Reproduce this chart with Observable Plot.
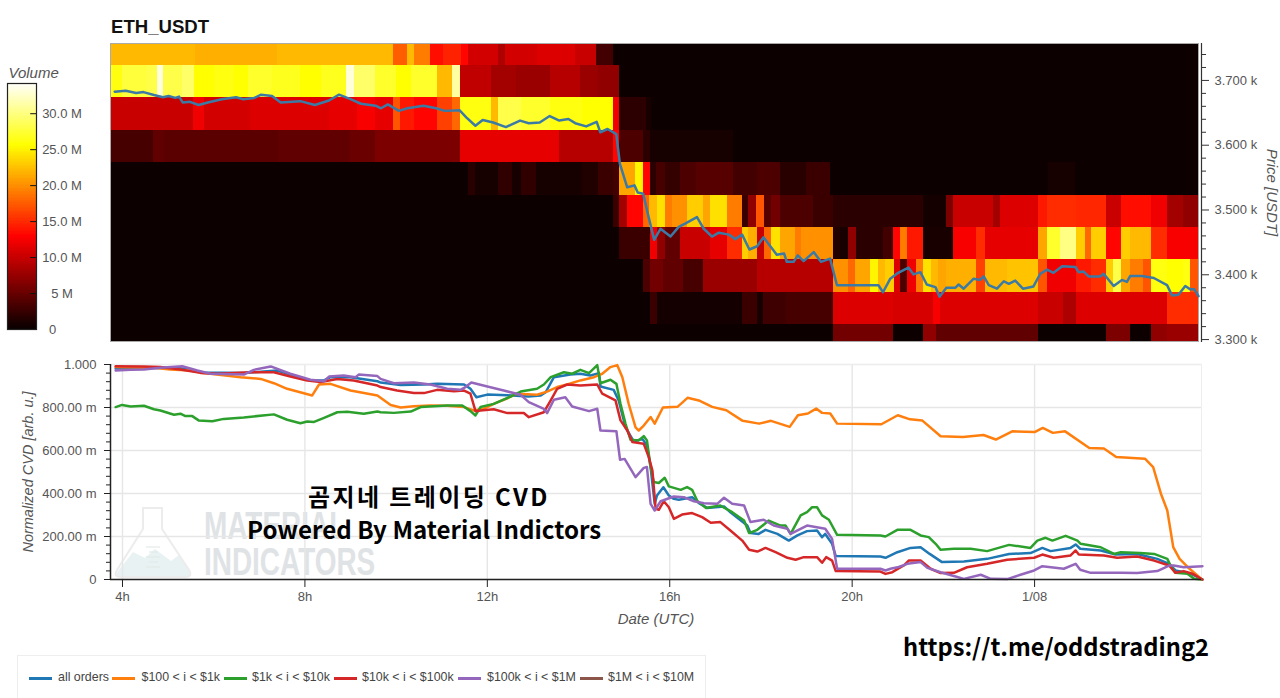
<!DOCTYPE html>
<html>
<head>
<meta charset="utf-8">
<script src="https://cdn.jsdelivr.net/npm/d3@7"></script>
<script src="https://cdn.jsdelivr.net/npm/@observablehq/plot@0.6"></script>
<style>
html,body{margin:0;padding:0;background:#fff;overflow:hidden}
#page{position:relative;width:1280px;height:698px;font-family:"Liberation Sans",Arial,sans-serif;color:#444;overflow:hidden}
#page svg.plotted{position:absolute}
.abs{position:absolute;white-space:nowrap}
.wm{transform:scaleX(0.735);transform-origin:left center;font-family:'Liberation Sans';font-weight:bold;font-size:38px;color:#e0e3e5;line-height:38px}
.over{font-family:'Noto Sans CJK KR','Noto Sans';font-weight:700;color:#000;line-height:34px}
#legend{position:absolute;left:17px;top:655px;width:689px;height:43px;border:1px solid #eee;border-bottom:none;box-sizing:border-box;font-size:12.4px;color:#444}
#legend .sw{position:absolute;top:21px;height:2.5px;width:23px}
#legend .tx{position:absolute;top:14px;line-height:15px}
</style>
</head>
<body>
<div id="page">
  <div class="abs" style="left:111px;top:16px;font-size:18.6px;font-weight:bold;color:#111;line-height:22px">ETH_USDT</div>
  <svg class="abs" style="left:113px;top:505px" width="82" height="76" viewBox="0 0 82 76">
    <path d="M5 66 L20 47 L32 53 L42 44 L58 56 L66 50 L76 66 Q79 72 72 72 L8 72 Q1 72 5 66 Z" fill="#e9f2f3"/>
    <path d="M30 3 L49 3 L49 24 L76 65 Q80 72 72 72 L8 72 Q0 72 4 65 L30 24 Z" fill="none" stroke="#ececec" stroke-width="2"/>
    <path d="M33 42 H47 M36 47 H45 M33 52 H47 M36 57 H45 M33 62 H47" stroke="#e2e5e5" stroke-width="1.2"/>
  </svg>
  <div class="abs wm" style="left:204px;top:507px;">MATERIAL</div>
  <div class="abs wm" style="left:204px;top:543px;">INDICATORS</div>
  <div id="charts"></div>
  <div class="abs over" style="left:308px;top:479px;font-size:24px;letter-spacing:2.4px">곰지네 트레이딩 CVD</div>
  <div class="abs over" style="left:247px;top:512px;font-size:24.1px;">Powered By Material Indictors</div>
  <div class="abs over" style="left:903px;top:629px;font-size:23.7px;">https://t.me/oddstrading2</div>
  <div id="legend"></div>
</div>
<script>
// ---------- heatmap rows: [end hour, volume in millions], runs start at the row's previous end ----------
const startHour = 3.737;
const row3723 = [[5.6,22],[7.4,21.5],[9.94,22],[10.25,17.5],[10.41,22],[10.76,19],[11.04,13.5],[11.43,14.5],[11.58,13],[12.25,10.5],[12.41,8.5],[13.11,10.5],[13.93,11],[14.4,10],[14.76,3],[27.6,0.1]];
const row3673 = [[3.99,26],[4.54,27.5],[4.77,28],[4.91,33],[5.32,28],[5.59,29],[6.02,25.5],[6.45,26],[6.77,25.5],[7.28,27],[7.9,26.5],[8.37,25.5],[8.92,26.5],[9.09,33],[9.55,29],[10.02,27],[10.33,25.5],[10.92,27],[11.23,22],[11.41,31],[12.09,9.5],[12.64,8],[13.38,7.5],[14.05,9],[14.44,7.5],[14.91,7],[27.6,0.1]];
const row3623 = [[5.55,10],[5.79,12],[6.81,10.5],[8.53,11],[9.16,11.5],[9.55,12.5],[9.94,11.5],[10.1,17],[10.41,14],[10.92,13],[11.23,16],[11.41,18],[12.09,26],[12.25,22],[12.76,28],[13.38,27],[14.09,26],[14.76,25.5],[14.91,12],[15.5,1.8],[15.6,0.8],[27.6,0.1]];
const row3573 = [[4.69,3.2],[4.93,4.5],[7.43,4.2],[9,4.5],[9.55,5],[11.41,6],[13.58,11.5],[14.76,9],[14.91,13],[15.43,3.5],[15.58,1.8],[17.4,0.7],[27.6,0.1]];
const row3523 = [[11.58,0.1],[11.74,1.6],[12.25,0.7],[12.56,2],[12.76,0.7],[13.07,2],[14.09,0.7],[14.44,1.2],[14.76,2.5],[14.9,3],[15.25,21],[15.42,25],[15.58,13],[15.72,1.8],[15.91,3.2],[16.23,2.2],[16.6,3.5],[17.4,4],[17.92,3],[18.43,3.5],[19.01,1.6],[19.52,2.5],[24.3,0.1],[24.9,0.7],[27.6,0.1]];
const row3473 = [[14.76,0.1],[14.9,2.5],[15.08,8],[15.42,13],[15.56,18],[15.74,22],[15.91,24],[16.07,19],[16.4,20],[16.75,23],[16.89,21],[17.26,24],[17.59,19],[17.73,2.5],[17.9,7],[18.08,17],[18.24,4],[18.43,5.5],[19.16,3.5],[19.6,2.5],[20.91,1.7],[21.57,1.7],[22.08,0.6],[22.23,6],[23.11,10],[23.25,8],[24.09,11],[24.28,14],[24.93,15],[25.58,14.7],[25.92,10],[26.58,13.5],[26.91,12],[27.27,8],[27.6,7]];
const row3423 = [[14.9,0.1],[15.58,2.5],[15.74,12],[15.91,7],[16.23,4.5],[16.89,10],[17.26,11.5],[17.59,15],[17.73,23],[17.92,21.5],[18.08,10],[18.24,18],[18.43,24],[18.76,21],[18.9,19],[19.6,20],[19.74,1.2],[19.93,0.8],[20.09,7],[20.69,1.7],[20.91,3],[21.07,13],[21.22,19],[21.57,14],[22.23,0.8],[22.74,12.5],[22.92,15],[24.09,11.5],[24.28,21],[24.57,27],[24.93,30],[25.12,23],[25.26,18],[25.58,23],[25.92,13],[26.1,23],[26.58,22],[26.91,15],[27.6,12.5]];
const row3373 = [[15.42,0.1],[15.58,3.5],[15.87,5.5],[16.31,4.5],[16.75,3.2],[17.92,7.5],[19.6,9],[19.93,20],[20.07,18],[20.4,21],[20.58,25],[20.73,22],[20.93,23],[21.07,11],[21.22,3.5],[21.41,12],[21.57,19],[21.75,24],[21.9,22],[22.08,21],[22.74,21.5],[22.92,16],[23.4,22],[24.09,22.5],[24.28,17],[24.93,12],[25.26,14],[25.58,15],[25.74,23],[25.92,28],[26.1,21],[26.4,19],[26.58,17],[26.91,26],[27.27,25.5],[27.42,26],[27.6,17]];
const row3323 = [[15.58,0.1],[15.74,2.5],[17.59,0.5],[17.92,2.5],[18.06,0.8],[18.57,2.7],[19.6,3.2],[20.91,11],[21.79,10.7],[21.94,12.5],[24.09,11],[24.64,10],[24.93,8.5],[26.91,11],[27.6,15]];
const row3297 = [[19.6,0.1],[20.91,5.5],[21.57,0.1],[21.86,7],[24.09,4.5],[25.58,0.1],[26.1,6],[26.58,0.1],[26.91,7],[27.6,7.5]];
const heatRows = [
  {lo:3723,hi:3757,runs:row3723},{lo:3673,hi:3723,runs:row3673},{lo:3623,hi:3673,runs:row3623},
  {lo:3573,hi:3623,runs:row3573},{lo:3523,hi:3573,runs:row3523},{lo:3473,hi:3523,runs:row3473},
  {lo:3423,hi:3473,runs:row3423},{lo:3373,hi:3423,runs:row3373},{lo:3323,hi:3373,runs:row3323},{lo:3297,hi:3323,runs:row3297}
];
// ---------- price line: [hour, USDT] ----------
const price = [[3.83,3682.6],[4.07,3684],[4.3,3680.5],[4.46,3682],[4.69,3677.5],[4.89,3674],[5.01,3676],[5.16,3673],[5.24,3675],[5.32,3666],[5.48,3667],[5.67,3662],[5.87,3666],[6.18,3671],[6.49,3674],[6.65,3671],[6.89,3673],[7.04,3678],[7.28,3676],[7.47,3666],[7.9,3668],[8.22,3662],[8.53,3669],[8.75,3678],[9,3671],[9.23,3664],[9.55,3661],[9.67,3657],[9.82,3663],[10.06,3653],[10.25,3657],[10.6,3661],[10.88,3657],[11.07,3653],[11.39,3654],[11.54,3643],[11.74,3630],[11.9,3639],[12.13,3635],[12.41,3628],[12.72,3638],[12.91,3634],[13.15,3635],[13.37,3645],[13.58,3638],[13.78,3640.5],[13.93,3634],[14.17,3629],[14.4,3636],[14.48,3620],[14.64,3625],[14.83,3617],[14.91,3571],[15.07,3535],[15.23,3538],[15.3,3527],[15.42,3525],[15.54,3489],[15.66,3454],[15.8,3471],[16.02,3459],[16.2,3474],[16.34,3479],[16.6,3489],[16.75,3471],[16.93,3459],[17.08,3465],[17.3,3462],[17.44,3455],[17.59,3462],[17.75,3439],[17.92,3444],[18.06,3458],[18.35,3431],[18.51,3433],[18.57,3420],[18.72,3420],[18.81,3430],[18.94,3421],[19.16,3435],[19.32,3420],[19.52,3425],[19.67,3384],[20.58,3384],[20.68,3373],[20.84,3394],[20.99,3402],[21.24,3411],[21.35,3400.6],[21.5,3404],[21.64,3385],[21.83,3381],[21.92,3366],[22.07,3380],[22.27,3380],[22.34,3385],[22.45,3378.5],[22.67,3394],[22.81,3392],[22.89,3397.5],[23,3384],[23.18,3378.5],[23.33,3390],[23.44,3386],[23.58,3391],[23.75,3378.5],[23.98,3382],[24.13,3401.6],[24.28,3408],[24.42,3403],[24.61,3413],[24.9,3412],[24.97,3404],[25.08,3405],[25.19,3397.5],[25.45,3397.5],[25.52,3401.6],[25.74,3382.6],[25.92,3392],[26.03,3389],[26.1,3398],[26.36,3398],[26.62,3395],[26.91,3384],[27.02,3368],[27.16,3369],[27.31,3382.6],[27.42,3377.5],[27.51,3377.5],[27.6,3367]];
// ---------- CVD series: [hour, milli-units] ----------
const cvdAll = [[3.85,981],[5.2,985],[5.78,963],[6.66,961],[7.39,972],[8.12,926],[8.42,926],[8.56,941],[9,941],[9.59,922],[9.66,916],[10.1,905],[10.61,907],[10.9,910],[11.49,907],[11.63,887],[11.76,848],[12,860],[12.44,857],[12.9,851],[13.17,856],[13.28,871],[13.46,941],[13.82,953],[14.04,957],[14.26,949],[14.45,960],[14.48,898],[14.77,882],[14.88,833],[15.03,708],[15.21,642],[15.4,654],[15.5,623],[15.58,523],[15.67,352],[15.72,391],[15.86,429],[15.98,391],[16.09,375],[16.2,371],[16.49,383],[16.64,355],[16.82,333],[17.19,340],[17.33,313],[17.7,251],[17.77,216],[17.95,212],[18.1,231],[18.36,212],[18.61,181],[18.8,205],[19.01,225],[19.23,228],[19.34,197],[19.41,212],[19.56,166],[19.64,109],[20.62,107],[20.73,101],[20.99,127],[21.28,147],[21.5,150],[21.7,119],[21.97,81],[22.45,84],[22.96,96],[23.44,119],[23.91,123],[24.17,147],[24.35,132],[24.79,147],[24.9,163],[25,143],[25.45,135],[25.78,116],[26.25,119],[26.69,96],[26.95,73],[27.09,42],[27.42,27],[27.68,0]];
const cvd100 = [[3.85,988],[4.69,985],[5.05,977],[5.49,972],[5.78,960],[6.59,941],[7.03,933],[7.32,913],[7.61,887],[8.16,856],[8.31,907],[8.56,910],[9,879],[9.59,856],[9.88,812],[10.1,800],[10.39,806],[10.75,809],[11.12,808],[11.49,802],[11.7,786],[11.92,794],[12.14,817],[12.44,843],[12.65,864],[13.09,859],[13.31,874],[13.53,895],[13.75,907],[14.04,926],[14.34,941],[14.52,957],[14.7,988],[14.85,997],[14.96,941],[15.1,817],[15.25,708],[15.32,693],[15.43,716],[15.58,756],[15.67,725],[15.85,800],[16.17,803],[16.39,845],[16.66,831],[16.93,803],[17.24,787],[17.6,738],[17.96,725],[18.22,738],[18.63,710],[18.81,764],[19.03,772],[19.21,795],[19.34,775],[19.52,772],[19.67,725],[20.64,722],[21,764],[21.27,745],[21.54,739],[21.94,666],[22.43,663],[22.88,672],[23.15,651],[23.51,689],[24,686],[24.18,705],[24.4,682],[24.67,689],[25.2,612],[25.52,609],[25.79,570],[26.42,562],[26.6,523],[26.77,399],[26.91,321],[27.04,151],[27.18,96],[27.36,57],[27.67,0]];
const cvd1k = [[3.85,802],[3.99,812],[4.18,805],[4.47,808],[4.69,792],[4.83,786],[5.13,766],[5.27,771],[5.38,760],[5.53,760],[5.67,740],[5.97,736],[6.22,747],[6.66,754],[7.32,768],[7.61,743],[7.9,727],[8.05,735],[8.2,733],[8.42,752],[8.71,778],[8.93,780],[9.29,771],[9.59,781],[9.66,778],[9.95,775],[10.32,781],[10.54,802],[11.12,809],[11.45,809],[11.63,783],[11.74,763],[11.85,802],[12.14,817],[12.51,851],[12.73,874],[13.09,887],[13.24,907],[13.39,941],[13.68,964],[13.86,957],[14.04,975],[14.23,960],[14.41,997],[14.48,913],[14.7,929],[14.83,910],[14.92,817],[15.03,724],[15.14,650],[15.32,647],[15.43,667],[15.5,647],[15.58,523],[15.65,453],[15.76,449],[15.89,473],[15.98,433],[16.24,417],[16.38,430],[16.49,417],[16.6,367],[16.79,333],[17.11,344],[17.37,313],[17.63,274],[17.74,216],[17.92,231],[18.17,274],[18.43,251],[18.54,251],[18.65,212],[18.87,298],[19.01,313],[19.12,336],[19.23,336],[19.34,298],[19.49,278],[19.67,208],[20.62,205],[20.73,200],[20.99,231],[21.28,231],[21.5,205],[21.68,197],[21.83,166],[21.94,138],[22.23,143],[22.6,143],[22.96,132],[23.44,161],[23.91,147],[24.06,181],[24.24,194],[24.39,181],[24.68,203],[24.94,181],[25.01,166],[25.45,150],[25.74,119],[25.89,127],[26.32,123],[26.62,119],[26.91,96],[26.98,65],[27.09,31],[27.35,27],[27.5,3],[27.68,0]];
const cvd10k = [[3.85,992],[4.47,991],[4.83,988],[5.27,977],[5.71,961],[6.08,957],[6.81,964],[7.32,964],[7.68,944],[8.05,926],[8.34,918],[8.71,933],[9.07,926],[9.59,902],[9.66,895],[10.02,879],[10.39,867],[10.61,867],[10.9,882],[11.27,876],[11.49,879],[11.63,864],[11.74,783],[11.85,786],[12.14,792],[12.44,774],[12.8,774],[12.91,755],[13.24,778],[13.39,833],[13.53,887],[13.75,907],[14.04,902],[14.41,907],[14.52,864],[14.81,833],[14.92,740],[15.07,693],[15.18,639],[15.43,631],[15.54,569],[15.62,507],[15.69,329],[15.76,324],[15.87,364],[15.98,336],[16.09,282],[16.27,302],[16.49,309],[16.71,290],[16.9,264],[17.11,267],[17.33,228],[17.59,181],[17.74,138],[17.92,130],[18.1,147],[18.32,127],[18.58,101],[18.76,92],[18.94,104],[19.23,104],[19.34,78],[19.43,104],[19.56,88],[19.64,39],[20.62,37],[20.73,26],[20.88,34],[21.13,65],[21.24,88],[21.5,88],[21.72,50],[21.94,30],[22.23,31],[22.52,57],[22.96,73],[23.4,92],[23.99,101],[24.17,116],[24.42,101],[24.79,112],[24.9,135],[24.97,116],[25.52,112],[25.81,101],[26.25,107],[26.62,88],[26.95,65],[27.09,31],[27.27,39],[27.46,27],[27.68,0]];
const cvd100k = [[3.85,972],[4.18,975],[4.47,977],[4.83,985],[5.31,992],[5.64,972],[5.93,957],[6.66,953],[6.88,975],[7.25,991],[7.68,957],[8.12,929],[8.42,922],[8.53,944],[8.85,949],[9.11,941],[9.18,953],[9.59,946],[9.66,933],[9.95,913],[10.39,916],[10.75,907],[11.12,887],[11.41,882],[11.52,895],[11.65,916],[12,898],[12.36,879],[12.73,859],[12.91,825],[13.24,794],[13.31,774],[13.46,836],[13.71,848],[13.86,805],[14.23,783],[14.41,794],[14.48,693],[14.83,690],[14.91,557],[15.01,561],[15.25,476],[15.43,519],[15.5,523],[15.58,352],[15.67,321],[15.8,364],[16.09,386],[16.31,383],[16.53,364],[16.75,355],[17.04,352],[17.19,380],[17.37,352],[17.63,344],[17.77,267],[18.06,278],[18.28,251],[18.58,236],[18.65,212],[19.01,251],[19.41,236],[19.56,189],[19.67,50],[20.62,50],[20.73,42],[20.84,50],[21.02,58],[21.21,73],[21.5,81],[21.65,54],[21.94,34],[22.23,16],[22.45,3],[22.82,22],[23.04,3],[23.4,2],[23.69,22],[23.99,42],[24.17,62],[24.64,50],[24.9,73],[25,45],[25.23,31],[25.89,31],[26.25,30],[26.69,39],[26.95,65],[27.05,65],[27.27,57],[27.68,62]];
const hourTicks = [4,8,12,16,20,24];
const hourLabels = ["4h","8h","12h","16h","20h","1/08"];
const cvdTicks = [0,200,400,600,800,1000];
const cvdLabels = ["0","200.00 m","400.00 m","600.00 m","800.00 m","1.000"];
const cvdMinor = [40,80,120,160,240,280,320,360,440,480,520,560,640,680,720,760,840,880,920,960];
const priceTicks = [3300,3400,3500,3600,3700];
const priceMinor = [3320,3340,3360,3380,3420,3440,3460,3480,3520,3540,3560,3580,3620,3640,3660,3680,3720,3740];
const volumeTicks = [5,10,15,20,25,30];
const volumeLabels = ["5 M","10.0 M","15.0 M","20.0 M","25.0 M","30.0 M"];
const legendItems = [
  {name:"all orders",color:"#1f77b4",values:cvdAll,sw:29,tx:58},
  {name:"$100 < i < $1k",color:"#ff7f0e",values:cvd100,sw:112,tx:141.5},
  {name:"$1k < i < $10k",color:"#2ca02c",values:cvd1k,sw:224,tx:252},
  {name:"$10k < i < $100k",color:"#d62728",values:cvd10k,sw:334,tx:362},
  {name:"$100k < i < $1M",color:"#9467bd",values:cvd100k,sw:458,tx:487},
  {name:"$1M < i < $10M",color:"#8c564b",values:[],sw:580,tx:608}
];
const heatColor = {type:"linear",domain:[0,12.8,25.5,34.2],range:["#0a0000","#ff0000","#ffff00","#ffffff"],clamp:true};

const heatCells = heatRows.flatMap(r => {
  let from = startHour;
  return r.runs.map(([to,v]) => { const c = {x1:from,x2:to,lo:r.lo,hi:r.hi,v}; from = to; return c; });
});
const fontBase = {background:"transparent",fontFamily:"'Liberation Sans',Arial,sans-serif",fontSize:"13px",color:"#444"};
const kFmt = d => (d/1000).toFixed(3)+" k";
const charts = document.getElementById("charts");

const heat = Plot.plot({
  width:1280,height:350,marginTop:43,marginBottom:9,marginLeft:110,marginRight:82,
  style:fontBase,
  x:{domain:[startHour,27.6],axis:null},
  y:{domain:[3297,3757],axis:null},
  color:heatColor,
  marks:[
    Plot.rect(heatCells,{x1:"x1",x2:"x2",y1:"lo",y2:"hi",fill:"v",inset:0,shapeRendering:"crispEdges"}),
    Plot.frame({stroke:"#aaa",strokeWidth:1}),
    Plot.line(price,{x:d=>d[0],y:d=>d[1],stroke:"#3c7aa6",strokeWidth:2.5}),
    Plot.frame({anchor:"right",dx:3,stroke:"#333",strokeWidth:1.2}),
    Plot.axisY({anchor:"right",ticks:priceTicks,tickSize:7,dx:3,tickPadding:6,stroke:"#333",tickFormat:kFmt,fill:"#555",label:null}),
    Plot.axisY({anchor:"right",ticks:priceMinor,tickSize:4,dx:3,stroke:"#333",tickFormat:()=>"",label:null}),
    Plot.text(["Price [USDT]"],{frameAnchor:"right",textAnchor:"middle",dx:73,rotate:90,fontStyle:"italic",fontSize:15,fill:"#555"})
  ]
});
heat.classList.add("plotted"); heat.style.left="0px"; heat.style.top="0px"; charts.appendChild(heat);

const bar = Plot.plot({
  width:100,height:280,marginTop:23,marginBottom:11,marginLeft:7,marginRight:64,
  style:fontBase,
  x:{domain:[0,1],axis:null},
  y:{domain:[0,34.2],axis:null},
  color:heatColor,
  marks:[
    Plot.rect(d3.range(0,34.2,0.2),{x1:0,x2:1,y1:d=>d,y2:d=>d+0.3,fill:d=>d,shapeRendering:"crispEdges"}),
    Plot.frame({stroke:"#222",strokeWidth:1.2}),
    Plot.ruleY(volumeTicks,{x1:0.8,x2:1,stroke:"#111"}),
    Plot.text(volumeTicks,{x:1,y:d=>d,text:(d,i)=>volumeLabels[i],dx:25.5,textAnchor:"middle",fill:"#555",fontSize:13}),
    Plot.text([0],{x:1,y:d=>d,text:()=>"0",dx:16,textAnchor:"middle",fill:"#555",fontSize:13}),
    Plot.text(["Volume"],{frameAnchor:"top-left",dx:1,dy:-16,fontStyle:"italic",fontSize:15,fill:"#555"})
  ]
});
bar.classList.add("plotted"); bar.style.left="0px"; bar.style.top="60px"; charts.appendChild(bar);

const cvd = Plot.plot({
  width:1280,height:280,marginTop:14,marginBottom:51,marginLeft:110,marginRight:79,
  style:fontBase,
  x:{domain:[3.737,27.66],axis:null},
  y:{domain:[0,1000],axis:null},
  marks:[
    Plot.gridX({ticks:hourTicks,stroke:"#e6e6e6",strokeOpacity:1,strokeWidth:1.4}),
    Plot.gridY({ticks:cvdTicks,stroke:"#e6e6e6",strokeOpacity:1,strokeWidth:1.4}),
    Plot.frame({stroke:"#eee"}),
    ...legendItems.filter(s=>s.values.length).map(s=>Plot.line(s.values,{x:d=>d[0],y:d=>d[1],stroke:s.color,strokeWidth:2.5})),
    Plot.ruleY([0],{stroke:"#222",strokeWidth:1.5}),
    Plot.ruleX([3.737],{stroke:"#222",strokeWidth:1.5}),
    Plot.axisY({anchor:"left",ticks:cvdTicks,tickSize:6,tickPadding:8,stroke:"#222",fill:"#555",tickFormat:(d)=>cvdLabels[cvdTicks.indexOf(d)],label:null}),
    Plot.axisY({anchor:"left",ticks:cvdMinor,tickSize:4,stroke:"#222",tickFormat:()=>"",label:null}),
    Plot.axisX({anchor:"bottom",ticks:hourTicks,tickSize:8,tickPadding:4,stroke:"#222",fill:"#555",tickFormat:(d)=>hourLabels[hourTicks.indexOf(d)],label:null}),
    Plot.text(["Date (UTC)"],{frameAnchor:"bottom",dy:44,fontStyle:"italic",fontSize:15,fill:"#555"}),
    Plot.text(["Normalized CVD [arb. u.]"],{frameAnchor:"left",textAnchor:"middle",dx:-82,rotate:-90,fontStyle:"italic",fontSize:14.5,fill:"#555"})
  ]
});
cvd.classList.add("plotted"); cvd.style.left="0px"; cvd.style.top="350px"; charts.appendChild(cvd);

const legend = document.getElementById("legend");
legendItems.forEach(s=>{
  const sw=document.createElement("div"); sw.className="sw"; sw.style.left=(s.sw-18)+"px"; sw.style.background=s.color; legend.appendChild(sw);
  const tx=document.createElement("div"); tx.className="tx"; tx.style.left=(s.tx-18)+"px"; tx.textContent=s.name; legend.appendChild(tx);
});
</script>
</body>
</html>
